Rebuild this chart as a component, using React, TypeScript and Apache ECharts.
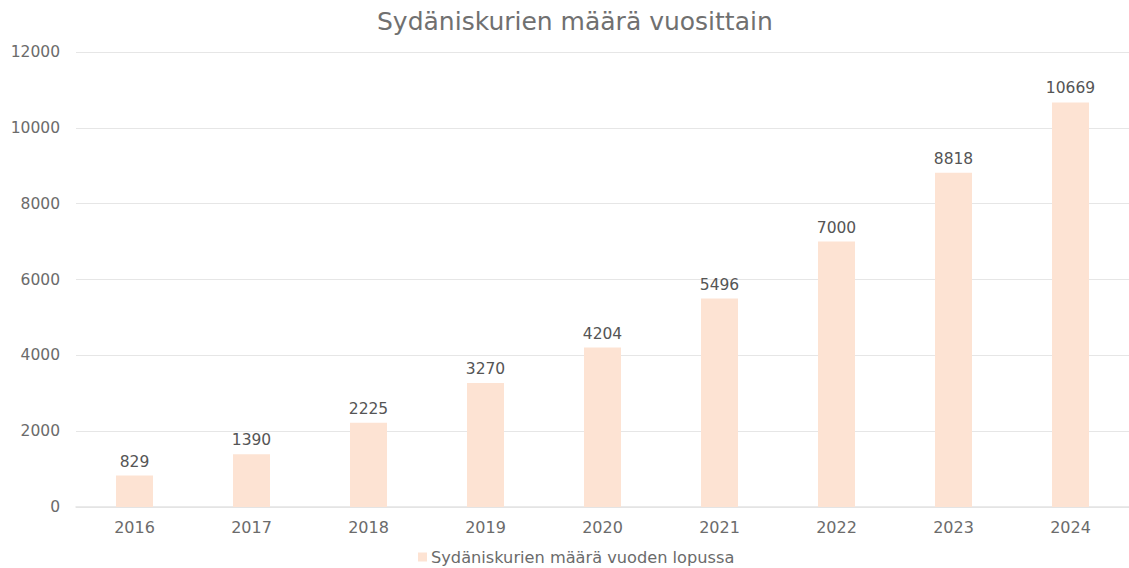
import React, { useEffect, useRef } from "react";
import * as echarts from "echarts";

const years = ["2016", "2017", "2018", "2019", "2020", "2021", "2022", "2023", "2024"];
const counts = [829, 1390, 2225, 3270, 4204, 5496, 7000, 8818, 10669];
const yTicks = { min: 0, max: 12000, interval: 2000 };
const titleText = "Sydäniskurien määrä vuosittain";
const seriesName = "Sydäniskurien määrä vuoden lopussa";

export default function App() {
  const ref = useRef<HTMLDivElement>(null);
  useEffect(() => {
    document.body.style.margin = "0";
    document.body.style.overflow = "hidden";
    const chart = echarts.init(ref.current!, undefined, { renderer: "svg" });
    const font = "Verdana, 'DejaVu Sans', sans-serif";
    chart.setOption({
      animation: false,
      textStyle: { fontFamily: font },
      title: {
        text: titleText,
        left: 372,
        top: 4,
        textStyle: { fontFamily: font, fontSize: 25, fontWeight: "normal", color: "#707070" },
      },
      legend: {
        bottom: -2,
        left: 413,
        itemWidth: 9,
        itemHeight: 9,
        itemGap: 8,
        icon: "rect",
        textStyle: { fontFamily: font, fontSize: 16.2, color: "#6b6b6b", padding: [0, 0, 0, -1] },
        data: [seriesName],
      },
      grid: { left: 76, right: -5, top: 52, bottom: 61, containLabel: false },
      xAxis: {
        type: "category",
        data: years,
        axisLine: { show: true, lineStyle: { color: "#e3e3e3", width: 1.5 } },
        axisTick: { show: false },
        axisLabel: { fontFamily: font, fontSize: 16, color: "#6b6b6b", margin: 12 },
      },
      yAxis: {
        type: "value",
        min: yTicks.min,
        max: yTicks.max,
        interval: yTicks.interval,
        axisLine: { show: false },
        axisTick: { show: false },
        splitLine: { lineStyle: { color: "#e6e6e6", width: 1 } },
        axisLabel: {
          fontFamily: font,
          fontSize: 15.5,
          color: "#6b6b6b",
          margin: 16,
          formatter: (v: number) => String(v),
        },
      },
      series: [
        {
          name: seriesName,
          type: "bar",
          data: counts,
          barWidth: 37,
          itemStyle: { color: "#fde3d3" },
          label: {
            show: true,
            position: "top",
            distance: 6,
            fontFamily: font,
            fontSize: 15.5,
            color: "#555555",
          },
        },
      ],
    });
    return () => chart.dispose();
  }, []);
  return <div ref={ref} style={{ width: 1129, height: 568 }} />;
}
